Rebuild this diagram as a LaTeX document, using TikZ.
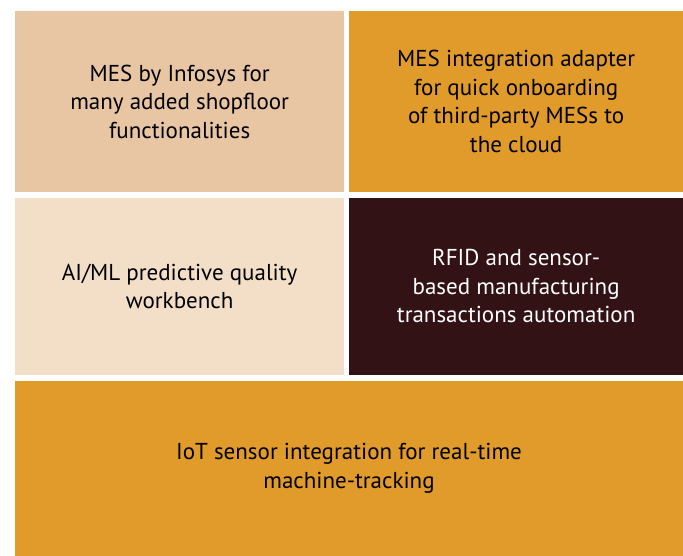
\documentclass[tikz,border=0pt]{standalone}
\usepackage{fontspec}
\setmainfont{PT Sans}
\definecolor{tanlight}{HTML}{E8C6A4}
\definecolor{ochre}{HTML}{E09B2A}
\definecolor{creamy}{HTML}{F3DFC8}
\definecolor{darkwine}{HTML}{321215}
\begin{document}
\begin{tikzpicture}
        [x=1bp, y=-1bp, every node/.style={draw=none,shape=rectangle,inner sep=0,align=center,font=\fontsize{23bp}{28.5bp}\selectfont},
         narrowbox/.style={minimum width=329.3bp},
         widebox/.style={minimum width=333.7bp}]

        \useasboundingbox (0, 0) rectangle (683, 556);

        \node[narrowbox, minimum height=181bp, fill=tanlight] (b1) at (179.65, 101.5) {MES by Infosys for\\many added shopfloor\\functionalities};
        \node[widebox, minimum height=181bp, fill=ochre] (b2) at (516.15, 101.5) {MES integration adapter\\for quick onboarding\\of third-party MESs to\\the cloud};
        \node[narrowbox, minimum height=177bp, fill=creamy] (b3) at (179.65, 286.2) {AI/ML predictive quality\\workbench};
        \node[widebox, minimum height=177bp, fill=darkwine, text=white] (b4) at (516.15, 286.2) {RFID and sensor-\\based manufacturing\\transactions automation};
        \node[minimum width=668bp, minimum height=175.3bp, fill=ochre] (b5) at (349, 468.35) {IoT sensor integration for real-time\\machine-tracking};
      \end{tikzpicture}
\end{document}
